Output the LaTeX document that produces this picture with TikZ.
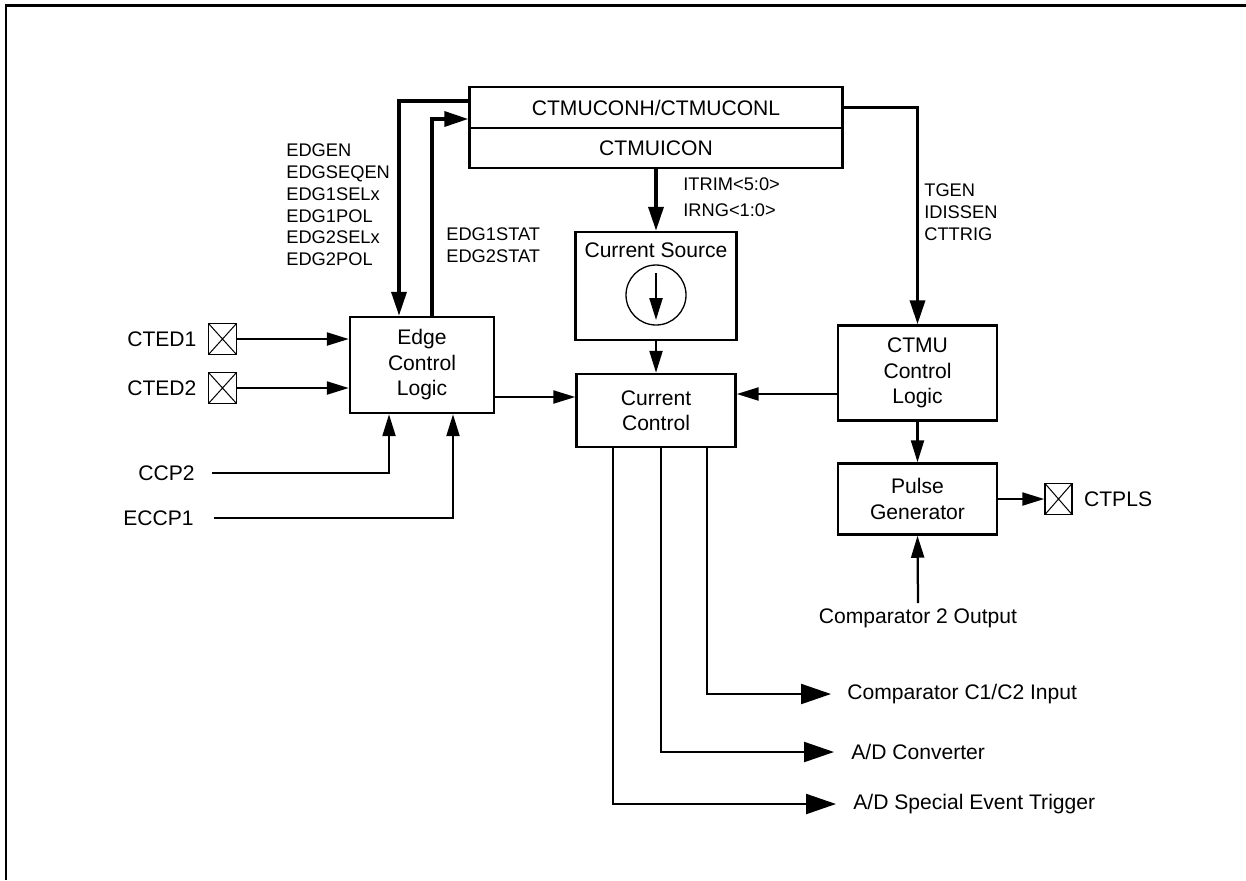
\documentclass[tikz,border=0pt]{standalone}
\usepackage{fontspec}
\setmainfont{Liberation Sans}
\usetikzlibrary{arrows.meta, positioning}

\begin{document}
\begin{tikzpicture}[
  x=0.02cm, y=-0.02cm,
  box/.style={rectangle, draw, line width=0.05cm, align=center, font=\fontsize{12}{14.5}\selectfont},
  pad/.style={rectangle, draw, line width=0.03cm, minimum width=0.56cm, minimum height=0.62cm, inner sep=0pt,
    path picture={\draw[line width=0.02cm] (path picture bounding box.north west) -- (path picture bounding box.south east)
      (path picture bounding box.south west) -- (path picture bounding box.north east);}},
  txt/.style={font=\fontsize{12}{14.5}\selectfont, inner sep=0.1cm},
  sig/.style={font=\fontsize{10.4}{12.4}\selectfont, align=left, inner sep=0pt, anchor=west},
  arr/.style={-{Triangle[length=0.44cm, width=0.26cm]}, line width=0.045cm},
  thkarr/.style={-{Triangle[length=0.48cm, width=0.3cm]}, line width=0.07cm},
  bigarr/.style={-{Triangle[length=0.6cm, width=0.4cm]}, line width=0.045cm}
]
  \useasboundingbox (0,0) rectangle (1246,880);
  \draw[line width=0.06cm] (1246,5) -- (6,5) -- (6,880);

  % Control registers
  \node[box, minimum width=7.46cm, minimum height=0.82cm] (regh) at (656,107.5) {CTMUCONH/CTMUCONL};
  \node[box, minimum width=7.46cm, minimum height=0.8cm] (regi) at (656,148) {CTMUICON};

  % Edge logic and inputs
  \node[box, minimum width=2.88cm, minimum height=1.92cm] (edge) at (422,365) {Edge\\Control\\Logic};
  \node[pad] (pad1) at (222.5,339) {};
  \node[pad] (pad2) at (222.5,388) {};
  \node[txt, left=0.12cm of pad1] (cted1) {CTED1};
  \node[txt, left=0.12cm of pad2] (cted2) {CTED2};
  \node[txt, anchor=east, inner xsep=0.34cm] (ccp2) at (212,473) {CCP2};
  \node[txt, anchor=east, inner xsep=0.4cm] (eccp1) at (214,518) {ECCP1};

  % Current source and control
  \node[box, minimum width=3.22cm, minimum height=2.16cm] (csrc) at (656,286) {};
  \node[txt] (csrctxt) at (656,250) {Current Source};
  \node[circle, draw, line width=0.026cm, minimum size=1.2cm] (cscirc) at (656,295) {};
  \node[box, minimum width=3.18cm, minimum height=1.46cm] (cc) at (656,410.5) {Current\\Control};

  % CTMU logic and pulse
  \node[box, minimum width=3.18cm, minimum height=1.9cm] (ctmu) at (917.5,373) {CTMU\\Control\\Logic};
  \node[box, minimum width=3.18cm, minimum height=1.42cm] (pulse) at (917.5,499) {Pulse\\Generator};
  \node[pad, minimum width=0.54cm] (padout) at (1058.5,499) {};
  \node[txt, right=0.12cm of padout] (ctpls) {CTPLS};
  \node[txt] (cmp2) at (918,618) {Comparator 2 Output};

  % Outputs
  \node[txt, anchor=west, inner xsep=0.32cm] (cmpin) at (831,694) {Comparator C1/C2 Input};
  \node[txt, anchor=west, inner xsep=0.34cm] (adc) at (834,752) {A/D Converter};
  \node[txt, anchor=west, inner xsep=0.34cm] (adtrig) at (836,804) {A/D Special Event Trigger};

  % Signal labels
  \node[sig] (edgsig) at (286,205) {EDGEN\\EDGSEQEN\\EDG1SELx\\EDG1POL\\EDG2SELx\\EDG2POL};
  \node[sig] (statsig) at (446,245) {EDG1STAT\\EDG2STAT};
  \node[sig, font=\fontsize{10.4}{14.5}\selectfont] (isig) at (683,197) {ITRIM<5:0>\\IRNG<1:0>};
  \node[sig] (tsig) at (924,212) {TGEN\\IDISSEN\\CTTRIG};

  % Connections
  \draw[thkarr] ([yshift=0.13cm]regh.west) -| ([xshift=-0.46cm]edge.north);
  \draw[thkarr] ([xshift=0.2cm]edge.north) |- ([yshift=-0.23cm]regh.west);
  \draw[thkarr] (regh.east) -| (ctmu.north);
  \draw[thkarr] (regi.south) -- (csrc.north);
  \draw[arr] ([yshift=0.44cm]cscirc.center) -- ([yshift=-0.5cm]cscirc.center);
  \draw[arr] (pad1.east) -- (pad1.east -| edge.west);
  \draw[arr] (pad2.east) -- (pad2.east -| edge.west);
  \draw[arr] (ccp2.east) -| ([xshift=-0.66cm]edge.south);
  \draw[arr] (eccp1.east) -| ([xshift=0.62cm]edge.south);
  \draw[arr] ([yshift=-0.64cm]edge.east) -- ([yshift=-0.64cm]edge.east -| cc.west);
  \draw[arr] (csrc.south) -- (cc.north);
  \draw[arr] ([yshift=-0.42cm]ctmu.west) -- ([yshift=-0.42cm]ctmu.west -| cc.east);
  \draw[arr] (ctmu.south) -- (pulse.north);
  \draw[arr] (pulse.east) -- (padout.west);
  \draw[arr] (cmp2.north) -- (pulse.south);
  \draw[bigarr] ([xshift=1.02cm]cc.south) |- (cmpin.west);
  \draw[bigarr] ([xshift=0.1cm]cc.south) |- (adc.west);
  \draw[bigarr] ([xshift=-0.86cm]cc.south) |- (adtrig.west);
\end{tikzpicture}
\end{document}
